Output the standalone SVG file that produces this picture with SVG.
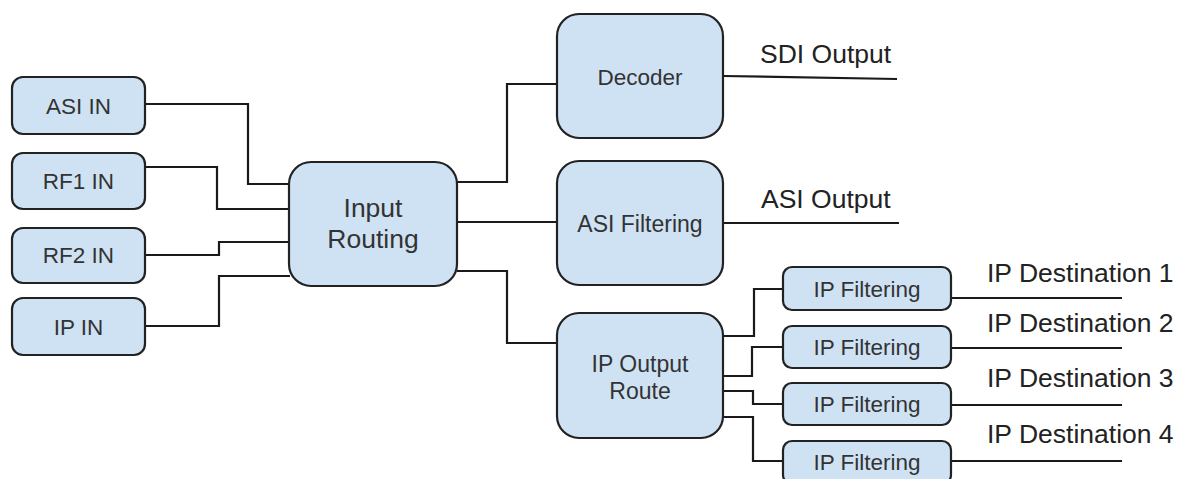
<svg xmlns="http://www.w3.org/2000/svg" width="1178" height="479" viewBox="0 0 1178 479">
<style>
.box{fill:#cfe2f3;stroke:#222;stroke-width:2.2}
.t{font-family:"Liberation Sans",Arial,sans-serif;fill:#333;text-anchor:middle}
.s{font-size:22.5px}
.m{font-size:23px}
.l{font-size:26.5px}
.lbl{font-family:"Liberation Sans",Arial,sans-serif;fill:#222;font-size:26.5px}
.c{fill:none;stroke:#1a1a1a;stroke-width:2.2}
</style>
<rect width="1178" height="479" fill="#fff"/>
<g id="connectors">
<polyline class="c" points="145,104 248,104 248,184 290,184"/>
<polyline class="c" points="145,167 217,167 217,209 290,209"/>
<polyline class="c" points="145,255 219,255 219,242 290,242"/>
<polyline class="c" points="145,326 219,326 219,276 290,276"/>
<polyline class="c" points="457,182 507,182 507,84 557,84"/>
<polyline class="c" points="457,222 557,222"/>
<polyline class="c" points="457,271 507,271 507,343 557,343"/>
<polyline class="c" points="723,336 754,336 754,289 783,289"/>
<polyline class="c" points="723,376 752,376 752,347 783,347"/>
<polyline class="c" points="723,391 753,391 753,404 783,404"/>
<polyline class="c" points="723,417 753,417 753,461 783,461"/>
<polyline class="c" points="723,76 897,79"/>
<polyline class="c" points="723,223 899,223"/>
<polyline class="c" points="951,298 1122,298"/>
<polyline class="c" points="951,348 1122,348"/>
<polyline class="c" points="951,405 1122,405"/>
<polyline class="c" points="951,461 1122,461"/>
</g>
<g id="asi-in"><rect class="box" x="12" y="77" width="133" height="57" rx="11"/><text class="t s" x="78.5" y="114">ASI IN</text></g>
<g id="rf1-in"><rect class="box" x="12" y="153" width="133" height="56" rx="11"/><text class="t s" x="78.5" y="189">RF1 IN</text></g>
<g id="rf2-in"><rect class="box" x="12" y="228" width="133" height="55" rx="11"/><text class="t s" x="78.5" y="263">RF2 IN</text></g>
<g id="ip-in"><rect class="box" x="12" y="298" width="133" height="57" rx="11"/><text class="t s" x="78.5" y="335">IP IN</text></g>
<g id="input-routing"><rect class="box" x="289" y="162" width="168" height="124" rx="22"/><text class="t l" x="373" y="217">Input</text><text class="t l" x="373" y="248">Routing</text></g>
<g id="decoder"><rect class="box" x="557" y="14" width="166" height="124" rx="22"/><text class="t s" x="640" y="85">Decoder</text></g>
<g id="asi-filtering"><rect class="box" x="557" y="161" width="166" height="124" rx="22"/><text class="t m" x="640" y="232">ASI Filtering</text></g>
<g id="ip-output-route"><rect class="box" x="557" y="313" width="166" height="125" rx="22"/><text class="t m" x="640" y="372">IP Output</text><text class="t m" x="640" y="399">Route</text></g>
<g id="ip-filtering-1"><rect class="box" x="783" y="267" width="168" height="43" rx="9"/><text class="t s" x="867" y="297">IP Filtering</text></g>
<g id="ip-filtering-2"><rect class="box" x="783" y="326" width="168" height="42" rx="9"/><text class="t s" x="867" y="355">IP Filtering</text></g>
<g id="ip-filtering-3"><rect class="box" x="783" y="383" width="168" height="42" rx="9"/><text class="t s" x="867" y="412">IP Filtering</text></g>
<g id="ip-filtering-4"><rect class="box" x="783" y="441" width="168" height="43" rx="9"/><text class="t s" x="867" y="470">IP Filtering</text></g>
<g id="labels">
<text class="lbl" x="760" y="63">SDI Output</text>
<text class="lbl" x="761" y="208">ASI Output</text>
<text class="lbl" x="987" y="282">IP Destination 1</text>
<text class="lbl" x="987" y="332">IP Destination 2</text>
<text class="lbl" x="987" y="387">IP Destination 3</text>
<text class="lbl" x="987" y="443">IP Destination 4</text>
</g>
</svg>
